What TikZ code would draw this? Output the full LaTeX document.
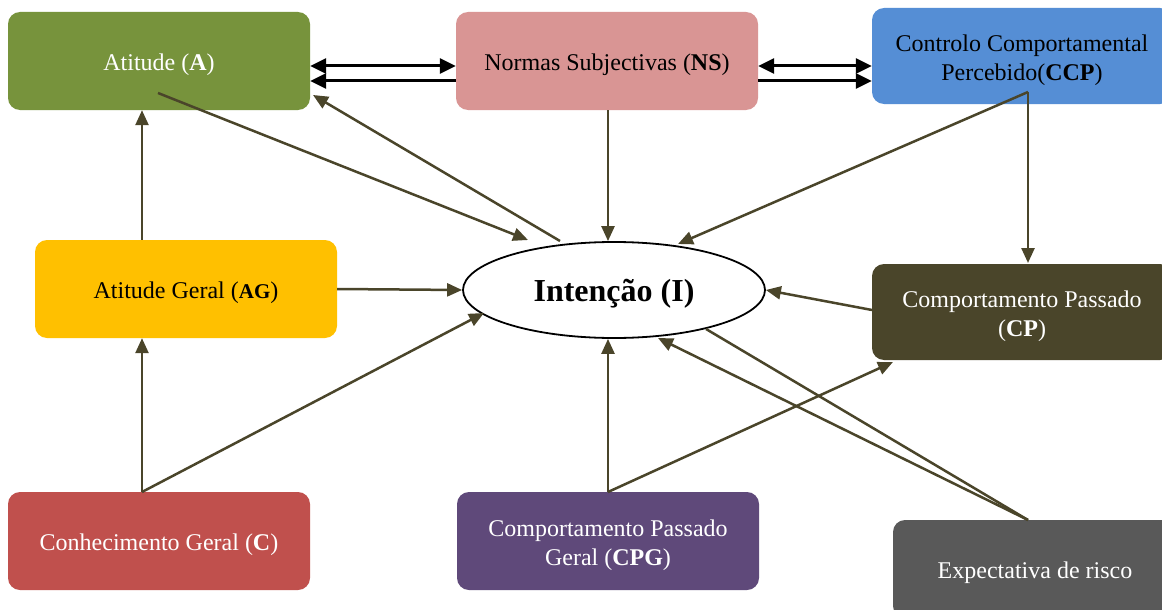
\documentclass[tikz,border=0pt]{standalone}
\usepackage{fontspec}
\setmainfont{Liberation Serif}
\usetikzlibrary{arrows.meta,shapes.geometric}
\definecolor{cA}{HTML}{77933C}
\definecolor{cNS}{HTML}{D99594}
\definecolor{cCCP}{HTML}{558ED5}
\definecolor{cAG}{HTML}{FFC000}
\definecolor{cCP}{HTML}{4A452A}
\definecolor{cC}{HTML}{C0504D}
\definecolor{cCPG}{HTML}{5F497A}
\definecolor{cE}{HTML}{595959}
\definecolor{cArr}{HTML}{4A452A}
\tikzset{
  boxnode/.style={rounded corners=12pt, minimum width=302pt, minimum height=98pt, inner sep=2pt},
  lbl/.style={align=center, font=\fontsize{24}{29}\selectfont, yshift=-4pt},
  arr/.style={draw=cArr, line width=2.5pt, -{Triangle[length=15pt,width=13pt]}},
  plainline/.style={draw=cArr, line width=2.5pt},
  barr/.style={draw=black, line width=3pt},
  bhead/.tip={Triangle[length=16pt,width=15pt]}
}
\begin{document}
\begin{tikzpicture}[x=1pt,y=-1pt]
\useasboundingbox (0,0) rectangle (1162,610);
\clip (0,0) rectangle (1162,610);
\fill[white] (0,0) rectangle (1162,610);
% boxes
\node[boxnode, fill=cA, label={[lbl, text=white]center:Atitude (\textbf{A})}] (A) at (159,61) {};
\node[boxnode, fill=cNS, label={[lbl, text=black]center:Normas Subjectivas (\textbf{NS})}] (NS) at (607,61) {};
\node[boxnode, fill=cCCP, minimum width=300pt, minimum height=96pt, label={[lbl, text=black]center:{Controlo Comportamental\\Percebido(\textbf{CCP})}}] (CCP) at (1022,56) {};
\node[boxnode, fill=cAG, label={[lbl, text=black]center:Atitude Geral (\textbf{\fontsize{21}{24}\selectfont AG})}] (AG) at (186,289) {};
\node[boxnode, fill=cCP, minimum width=300pt, minimum height=96pt, label={[lbl, text=white]center:{Comportamento Passado\\(\textbf{CP})}}] (CP) at (1022,312) {};
\node[boxnode, fill=cC, label={[lbl, text=white]center:Conhecimento Geral (\textbf{C})}] (C) at (159,541) {};
\node[boxnode, fill=cCPG, label={[lbl, text=white]center:{Comportamento Passado\\Geral (\textbf{CPG})}}] (CPG) at (608,541) {};
\node[boxnode, fill=cE, minimum width=284pt, label={[lbl, text=white]center:Expectativa de risco}] (E) at (1035,569) {};
\node[ellipse, draw=black, line width=1.8pt, fill=white, minimum width=302pt, minimum height=96pt, inner sep=0pt, label={[font=\fontsize{32}{38}\selectfont\bfseries, yshift=-4pt]center:Intenção (I)}] (I) at (614,290) {};
% connection points
\coordinate (a1) at (158,93);
\coordinate (a2) at (313,95);
\coordinate (i1) at (528,240);
\coordinate (i2) at (560,241);
\coordinate (i3) at (678,244);
\coordinate (i4) at (484,313);
\coordinate (i5) at (658,338);
\coordinate (i6) at (706,329);
\coordinate (ccp1) at (1028,92);
\coordinate (cp1) at (1028,263);
\coordinate (cp2) at (893,362);
\coordinate (cp3) at (872,310);
\coordinate (e1) at (1028,520);
\coordinate (c1) at (142,492);
\coordinate (g1) at (608,492);
% black double arrows between top boxes
\draw[barr, bhead-bhead] (A.east |- 0,66) -- (NS.west |- 0,66);
\draw[barr, -bhead] (NS.west |- 0,81) -- (A.east |- 0,81);
\draw[barr, bhead-bhead] (NS.east |- 0,66) -- (CCP.west |- 0,66);
\draw[barr, -bhead] (NS.east |- 0,81) -- (CCP.west |- 0,81);
% olive arrows
\draw[arr] (a1) -- (i1);
\draw[arr] (i2) -- (a2);
\draw[arr] (NS.south -| 608,0) -- (I.north -| 608,0);
\draw[arr] (ccp1) -- (i3);
\draw[arr] (ccp1) -- (cp1);
\draw[arr] (AG.north -| 142,0) -- (A.south -| 142,0);
\draw[arr] (AG.east) -- (I.west);
\draw[arr] (cp3) -- (I.east);
\draw[arr] (c1) -- (AG.south -| 142,0);
\draw[arr] (c1) -- (i4);
\draw[arr] (g1) -- (I.south -| 608,0);
\draw[arr] (g1) -- (cp2);
\draw[arr] (e1) -- (i5);
\draw[plainline] (e1) -- (i6);
\end{tikzpicture}
\end{document}
